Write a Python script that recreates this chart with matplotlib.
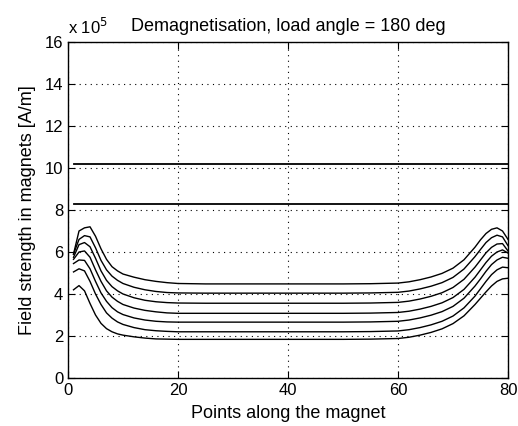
import matplotlib.pyplot as plt
from matplotlib.ticker import FuncFormatter

xs = [1, 2, 3, 4, 5, 6, 7, 8, 9, 10, 12, 14, 16, 18, 20, 25, 30, 40, 50, 55,
      60, 62, 64, 66, 68, 70, 72, 74, 75, 76, 77, 78, 79, 80]

# field strength, units of 1e5 A/m, one curve per row (top to bottom)
h1 = [5.9, 7.0, 7.15, 7.2, 6.75, 6.15, 5.65, 5.3, 5.1, 4.95, 4.8, 4.68, 4.6, 4.54, 4.5, 4.48, 4.48, 4.48, 4.48, 4.49,
      4.52, 4.58, 4.68, 4.81, 4.98, 5.23, 5.63, 6.23, 6.58, 6.88, 7.08, 7.15, 7.0, 6.6]
h2 = [5.9, 6.6, 6.78, 6.72, 6.2, 5.6, 5.15, 4.85, 4.65, 4.5, 4.32, 4.2, 4.12, 4.07, 4.05, 4.04, 4.04, 4.04, 4.04, 4.05,
      4.08, 4.14, 4.24, 4.37, 4.54, 4.79, 5.19, 5.78, 6.12, 6.45, 6.68, 6.8, 6.72, 6.3]
h3 = [5.75, 6.35, 6.45, 6.25, 5.7, 5.1, 4.65, 4.35, 4.15, 4.0, 3.82, 3.7, 3.63, 3.59, 3.57, 3.56, 3.56, 3.56, 3.56, 3.57,
      3.6, 3.66, 3.76, 3.89, 4.06, 4.31, 4.7, 5.28, 5.62, 5.96, 6.22, 6.38, 6.4, 6.05]
h4 = [5.65, 6.0, 6.05, 5.75, 5.15, 4.6, 4.15, 3.85, 3.65, 3.5, 3.33, 3.22, 3.15, 3.1, 3.08, 3.08, 3.08, 3.08, 3.08, 3.09,
      3.12, 3.18, 3.28, 3.41, 3.58, 3.83, 4.22, 4.8, 5.15, 5.5, 5.8, 6.0, 6.1, 5.95]
h5 = [5.45, 5.62, 5.6, 5.2, 4.6, 4.05, 3.65, 3.35, 3.15, 3.02, 2.86, 2.76, 2.7, 2.67, 2.66, 2.66, 2.66, 2.66, 2.66, 2.67,
      2.7, 2.76, 2.86, 2.99, 3.16, 3.41, 3.8, 4.38, 4.72, 5.08, 5.4, 5.62, 5.75, 5.7]
h6 = [5.05, 5.2, 5.1, 4.6, 4.0, 3.5, 3.1, 2.85, 2.67, 2.55, 2.4, 2.3, 2.25, 2.22, 2.2, 2.2, 2.2, 2.2, 2.2, 2.21,
      2.24, 2.3, 2.4, 2.53, 2.7, 2.95, 3.34, 3.9, 4.25, 4.6, 4.92, 5.15, 5.28, 5.25]
h7 = [4.2, 4.4, 4.15, 3.55, 3.0, 2.6, 2.35, 2.2, 2.1, 2.04, 1.96, 1.9, 1.86, 1.85, 1.84, 1.84, 1.84, 1.84, 1.84, 1.85,
      1.88, 1.94, 2.04, 2.17, 2.34, 2.59, 2.96, 3.5, 3.8, 4.1, 4.38, 4.6, 4.72, 4.75]
curves = [h1, h2, h3, h4, h5, h6, h7]

# the two flat limit lines
limit_x = [1, 80]
limit_levels = [10.2, 8.3]

plt.rcParams['font.family'] = ['Liberation Sans', 'DejaVu Sans']

fig = plt.figure(figsize=(5.18, 4.26), dpi=100)
ax = fig.add_axes([0.1313, 0.1127, 0.8494, 0.7887])

for h in curves:
  ax.plot(xs, [v*1e5 for v in h], color='black', lw=1.0)
for lev in limit_levels:
  ax.plot(limit_x, [lev*1e5, lev*1e5], color='black', lw=1.3)

ax.set_xlim(0, 80)
ax.set_ylim(0, 16e5)
ax.set_xticks([0, 20, 40, 60, 80])
ax.set_yticks([i*2e5 for i in range(9)])
ax.yaxis.set_major_formatter(FuncFormatter(lambda v, p: '%d' % round(v/1e5)))
ax.grid(True, color='black', ls=(0, (1, 4)), lw=0.8)
ax.tick_params(direction='in', top=True, right=True, length=5, labelsize=12, colors='black')
for s in ax.spines.values():
  s.set_linewidth(1.0)

ax.text(0.0, 1.015, r'x 10$^5$', transform=ax.transAxes, fontsize=12, ha='left', va='bottom')
ax.set_title('Demagnetisation, load angle = 180 deg', fontsize=13, pad=8)
ax.set_xlabel('Points along the magnet', fontsize=13, labelpad=5)
ax.set_ylabel('Field strength in magnets [A/m]', fontsize=13, labelpad=6)

fig.savefig('out.png', dpi=100)
